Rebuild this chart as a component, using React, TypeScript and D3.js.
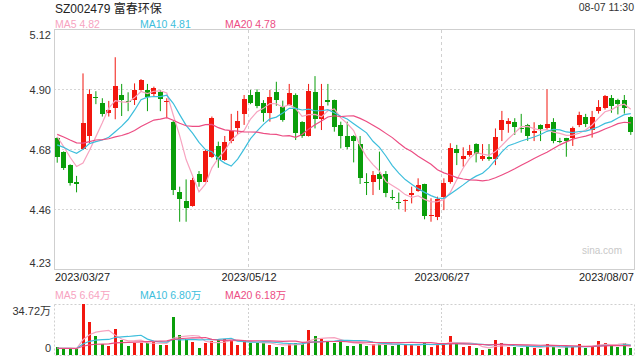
import React from "react";
import * as d3 from "d3";

const dates = [
  "2023/03/27","2023/03/28","2023/03/29","2023/03/30","2023/03/31",
  "2023/04/03","2023/04/04","2023/04/06","2023/04/07",
  "2023/04/10","2023/04/11","2023/04/12","2023/04/13","2023/04/14",
  "2023/04/17","2023/04/18","2023/04/19","2023/04/20","2023/04/21",
  "2023/04/24","2023/04/25","2023/04/26","2023/04/27","2023/04/28",
  "2023/05/04","2023/05/05",
  "2023/05/08","2023/05/09","2023/05/10","2023/05/11","2023/05/12",
  "2023/05/15","2023/05/16","2023/05/17","2023/05/18","2023/05/19",
  "2023/05/22","2023/05/23","2023/05/24","2023/05/25","2023/05/26",
  "2023/05/29","2023/05/30","2023/05/31","2023/06/01","2023/06/02",
  "2023/06/05","2023/06/06","2023/06/07","2023/06/08","2023/06/09",
  "2023/06/12","2023/06/13","2023/06/14","2023/06/15","2023/06/16",
  "2023/06/19","2023/06/20","2023/06/21",
  "2023/06/26","2023/06/27","2023/06/28","2023/06/29","2023/06/30",
  "2023/07/03","2023/07/04","2023/07/05","2023/07/06","2023/07/07",
  "2023/07/10","2023/07/11","2023/07/12","2023/07/13","2023/07/14",
  "2023/07/17","2023/07/18","2023/07/19","2023/07/20","2023/07/21",
  "2023/07/24","2023/07/25","2023/07/26","2023/07/27","2023/07/28",
  "2023/07/31","2023/08/01","2023/08/02","2023/08/03","2023/08/04",
  "2023/08/07",
];

const open = [
  4.718,4.667,4.619,4.557,4.679,4.728,4.871,4.848,4.811,4.830,
  4.879,4.858,4.860,4.898,4.898,4.881,4.889,4.852,4.780,4.518,
  4.486,4.468,4.586,4.558,4.650,4.690,4.638,4.708,4.755,4.808,
  4.879,4.889,4.848,4.811,4.889,4.836,4.842,4.879,4.780,4.728,
  4.889,4.790,4.860,4.860,4.768,4.727,4.727,4.697,4.557,4.558,
  4.585,4.585,4.499,4.481,4.485,4.508,4.523,4.549,4.431,4.428,
  4.500,4.558,4.678,4.640,4.656,4.697,4.640,4.650,4.640,4.749,
  4.770,4.779,4.757,4.768,4.739,4.768,4.755,4.779,4.708,4.718,
  4.721,4.768,4.798,4.749,4.820,4.830,4.869,4.860,4.860,4.796,
];
const high = [
  4.723,4.670,4.622,4.579,4.959,4.900,4.893,4.867,4.857,5.019,
  4.920,4.889,4.922,4.938,4.920,4.910,4.898,4.867,4.782,4.539,
  4.566,4.572,4.597,4.675,4.799,4.706,4.727,4.809,4.820,4.879,
  4.898,4.900,4.860,4.898,4.928,4.858,4.920,4.885,4.782,4.920,
  4.949,4.920,4.920,4.862,4.780,4.780,4.730,4.727,4.589,4.597,
  4.669,4.597,4.527,4.517,4.492,4.539,4.570,4.550,4.496,4.502,
  4.570,4.700,4.694,4.685,4.694,4.700,4.697,4.697,4.755,4.820,
  4.793,4.793,4.809,4.772,4.778,4.770,4.900,4.793,4.720,4.720,
  4.762,4.817,4.809,4.820,4.860,4.879,4.879,4.865,4.879,4.800,
];
const low = [
  4.628,4.601,4.543,4.518,4.675,4.701,4.845,4.799,4.799,4.789,
  4.801,4.819,4.842,4.895,4.819,4.875,4.819,4.793,4.508,4.409,
  4.409,4.465,4.539,4.556,4.645,4.609,4.635,4.700,4.734,4.768,
  4.845,4.830,4.780,4.780,4.839,4.780,4.840,4.712,4.720,4.725,
  4.755,4.749,4.840,4.743,4.681,4.678,4.629,4.549,4.508,4.508,
  4.527,4.500,4.490,4.456,4.446,4.477,4.520,4.418,4.409,4.415,
  4.452,4.550,4.619,4.613,4.650,4.629,4.635,4.635,4.619,4.708,
  4.739,4.731,4.739,4.709,4.708,4.708,4.750,4.700,4.700,4.650,
  4.690,4.760,4.760,4.721,4.810,4.825,4.813,4.807,4.810,4.731,
];
const close = [
  4.650,4.609,4.552,4.548,4.774,4.883,4.866,4.808,4.823,4.912,
  4.860,4.854,4.898,4.935,4.873,4.904,4.863,4.857,4.527,4.492,
  4.459,4.564,4.557,4.671,4.794,4.638,4.705,4.747,4.784,4.863,
  4.850,4.839,4.811,4.873,4.860,4.786,4.885,4.739,4.728,4.894,
  4.790,4.839,4.852,4.761,4.727,4.687,4.710,4.570,4.555,4.582,
  4.567,4.517,4.497,4.479,4.488,4.517,4.545,4.431,4.434,4.492,
  4.552,4.681,4.663,4.653,4.671,4.659,4.653,4.640,4.722,4.786,
  4.783,4.761,4.755,4.727,4.746,4.752,4.771,4.709,4.706,4.709,
  4.756,4.805,4.770,4.798,4.836,4.876,4.839,4.844,4.830,4.743,
];
// volume in 万 (10k shares)
const volume = [
  5.7,3.9,3.9,3.9,34.72,22.8,12.6,7.5,6.2,17.8,
  10.3,6.4,8.0,8.0,8.5,9.1,6.9,6.9,25.6,13.7,
  11.0,9.1,4.6,8.5,9.6,10.3,10.7,10.3,6.9,10.3,
  8.0,8.0,8.0,6.9,5.7,5.7,8.5,8.5,7.3,17.1,
  13.0,11.0,9.6,8.5,10.3,6.4,6.4,8.0,6.4,7.5,
  7.3,8.0,6.4,6.9,7.3,6.9,6.4,9.1,5.7,7.5,
  8.0,13.0,8.0,5.7,6.4,5.0,3.4,4.1,10.3,8.5,
  5.7,5.7,5.0,6.4,5.0,4.1,7.5,5.7,4.1,6.4,
  5.7,7.5,5.0,5.7,9.6,8.5,6.4,5.7,8.5,5.0,
];
// closes / volumes of the 19 sessions before the window (for moving averages)
const priorCloses = [
  4.80,4.78,4.76,4.79,4.77,4.75,4.78,4.76,4.77,4.76,
  4.70,4.68,4.64,4.63,4.67,4.79,4.75,4.72,4.71,
];
const priorVolumes = [
  4.2,4.8,5.1,4.4,3.9,4.6,5.0,4.3,4.7,4.5,
  4.1,4.9,4.4,4.6,4.2,4.8,4.3,4.5,4.6,
];

const priceTickLabels = ["5.12", "4.90", "4.68", "4.46", "4.23"];
const priceDomain = [4.23, 5.12];
const volTickLabels = ["34.72万", "0"];
const volMax = 34.72;
const dateTicks = ["2023/03/27", "2023/05/12", "2023/06/27", "2023/08/07"];
const maPeriods = [5, 10, 20];
const maNames = ["MA5", "MA10", "MA20"];
const priceMaValues = ["4.82", "4.81", "4.78"];
const volMaValues = ["6.64万", "6.80万", "6.18万"];
const maColors = ["#f7a3bf", "#3dbedc", "#ec4d83"];
const title = "SZ002479 富春环保";
const timeLabel = "08-07 11:30";

const UP = "#f2170f";
const DOWN = "#0a9e0a";
const FONT = "'Liberation Sans', Arial, 'Noto Sans CJK SC', sans-serif";

function movingAvg(series: number[], prior: number[], n: number): number[] {
  const full = prior.concat(series);
  const p = prior.length;
  return series.map((_, i) => d3.mean(full.slice(p + i - n + 1, p + i + 1)) as number);
}

export default function App() {
  const L = 54, R = 634;
  const pTop = 30, pBot = 270;
  const vTop = 304, vBot = 355;

  const x = d3.scaleBand<string>().domain(dates).range([L, R]).padding(0);
  const bw = x.bandwidth();
  const cx = (i: number) => (x(dates[i]) as number) + bw / 2;
  const y = d3.scaleLinear().domain(priceDomain).range([pBot, pTop]);
  const yv = d3.scaleLinear().domain([0, volMax]).range([vBot, vTop]);

  const tickVals = d3.range(priceTickLabels.length).map(
    (k) => priceDomain[1] - (k * (priceDomain[1] - priceDomain[0])) / (priceTickLabels.length - 1)
  );

  const priceMA = maPeriods.map((n) => movingAvg(close, priorCloses, n));
  const volMA = maPeriods.map((n) => movingAvg(volume, priorVolumes, n));

  const lineP = d3.line<number>().x((_, i) => cx(i)).y((d) => y(d));
  const lineV = d3.line<number>().x((_, i) => cx(i)).y((d) => yv(d));

  const bodyW = 5;
  const volW = 3;

  return (
    <svg width={640} height={360} style={{ position: "absolute", left: 0, top: 0, background: "#fff" }} fontFamily={FONT}>
      <rect x={0} y={0} width={640} height={360} fill="#fff" />
      {/* header */}
      <text x={55} y={12.5} fontSize={12} fill="#222">{title}</text>
      <text x={634} y={11} fontSize={10.5} fill="#333" textAnchor="end">{timeLabel}</text>
      {maNames.map((nm, k) => (
        <text key={nm} x={55 + k * 85} y={27.5} fontSize={10.5} fill={maColors[k]}>
          {nm} {priceMaValues[k]}
        </text>
      ))}

      {/* price grid */}
      {tickVals.slice(1, -1).map((v, k) => (
        <line key={k} x1={L} x2={R} y1={Math.round(y(v)) - 0.5} y2={Math.round(y(v)) - 0.5}
          stroke="#d6d6d6" strokeDasharray="2,2" />
      ))}
      {dateTicks.slice(1, -1).map((d) => {
        const gx = Math.floor(cx(dates.indexOf(d)) - 2) + 0.5;
        return (
          <g key={d}>
            <line x1={gx} x2={gx} y1={pTop} y2={pBot} stroke="#d0d0d0" strokeDasharray="3,3" />
            <line x1={gx} x2={gx} y1={vTop} y2={vBot} stroke="#d0d0d0" strokeDasharray="2,2" />
          </g>
        );
      })}
      <rect x={L + 0.5} y={pTop - 0.5} width={R - L} height={pBot - pTop} fill="none" stroke="#cfcfcf" />

      {/* y labels */}
      {tickVals.map((v, k) => {
        let ty = y(v);
        if (k === 0) ty += 5;
        if (k === tickVals.length - 1) ty -= 7;
        return (
          <text key={k} x={51} y={ty} dy="0.35em" fontSize={11} fill="#333" textAnchor="end">
            {priceTickLabels[k]}
          </text>
        );
      })}

      <text x={602} y={254} fontSize={10} fill="#c8c8c8" textAnchor="middle">sina.com</text>

      {/* candles */}
      {dates.map((d, i) => {
        const up = close[i] >= open[i];
        const col = up ? UP : DOWN;
        const c = cx(i);
        const top = y(Math.max(open[i], close[i]));
        const bot = y(Math.min(open[i], close[i]));
        return (
          <g key={d}>
            <line x1={c} x2={c} y1={y(high[i])} y2={y(low[i])} stroke={col} strokeWidth={1} />
            <rect x={Math.round(c - bodyW / 2)} y={top} width={bodyW} height={Math.max(1, bot - top)}
              fill={col} shapeRendering="crispEdges" />
          </g>
        );
      })}

      {/* price MAs */}
      {priceMA.map((s, k) => (
        <path key={k} d={lineP(s) as string} fill="none" stroke={maColors[k]} strokeWidth={1.2} />
      ))}

      {/* date labels */}
      {dateTicks.map((d, k) => {
        const i = dates.indexOf(d);
        let tx = Math.floor(cx(i) - 2) + 1;
        let anchor: "start" | "middle" | "end" = "middle";
        if (k === 0) { tx = L + 1; anchor = "start"; }
        if (k === dateTicks.length - 1) { tx = R; anchor = "end"; }
        return (
          <text key={d} x={tx} y={281} fontSize={11} fill="#222" textAnchor={anchor}>{d}</text>
        );
      })}

      {/* volume legend */}
      {maNames.map((nm, k) => (
        <text key={nm} x={55 + k * 85} y={299} fontSize={10.5} fill={maColors[k]}>
          {nm} {volMaValues[k]}
        </text>
      ))}

      {/* volume panel */}
      <rect x={L + 0.5} y={vTop + 0.5} width={R - L} height={vBot - vTop} fill="none"
        stroke="#cfcfcf" strokeDasharray="2,2" />
      <text x={51} y={311} dy="0.35em" fontSize={11} fill="#333" textAnchor="end">{volTickLabels[0]}</text>
      <text x={51} y={348} dy="0.35em" fontSize={11} fill="#333" textAnchor="end">{volTickLabels[1]}</text>

      {dates.map((d, i) => {
        const up = close[i] >= open[i];
        const c = cx(i);
        return (
          <rect key={d} x={Math.round(c - volW / 2)} y={yv(volume[i])} width={volW}
            height={vBot - yv(volume[i])} fill={up ? UP : DOWN} shapeRendering="crispEdges" />
        );
      })}
      {volMA.map((s, k) => (
        <path key={k} d={lineV(s) as string} fill="none" stroke={maColors[k]} strokeWidth={1.2} />
      ))}
    </svg>
  );
}
